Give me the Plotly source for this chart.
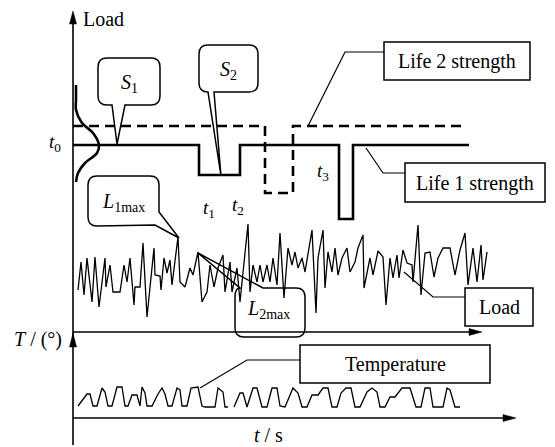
import plotly.graph_objects as go

# ---------------- data (schematic units: time -> x, level -> y, y grows downward) -------------
life1_t = [73, 199, 199, 240, 240, 339, 339, 353, 353, 469]
life1_y = [145, 145, 175, 175, 145, 145, 219, 219, 145, 145]

life2_t = [73, 265, 265, 293, 293, 465]
life2_y = [126, 126, 193, 193, 126, 126]

s1_density = [76, 76, 76, 82, 93, 99, 97, 85, 78, 76]
s1_level = [85, 100, 110, 123, 133, 145, 153, 163, 173, 182]

load_t = [78, 81, 84, 87, 92, 95, 99, 105, 106, 110, 113, 120, 124, 127, 130, 134, 135, 140, 143, 147,
          154, 155, 160, 161, 164, 167, 170, 172, 178, 180, 185, 190, 193, 198, 202, 207, 210, 214, 218,
          223, 225, 230, 232, 237, 240, 243, 248, 250, 253, 257, 260, 263, 267, 270, 273, 277, 280, 284,
          288, 292, 295, 298, 302, 305, 308, 312, 316, 318, 323, 325, 328, 332, 335, 338, 342, 347, 350,
          355, 358, 363, 364, 370, 373, 378, 383, 386, 390, 393, 397, 399, 403, 407, 412, 413, 418, 421,
          425, 430, 434, 438, 443, 450, 455, 460, 465, 468, 473, 477, 481, 483, 487]
load_v = [290, 262, 295, 258, 302, 257, 307, 258, 287, 265, 292, 292, 265, 282, 258, 305, 287, 287, 243, 317,
          248, 275, 276, 290, 258, 273, 260, 285, 237, 282, 287, 268, 275, 252, 302, 292, 265, 287, 268,
          255, 292, 262, 292, 268, 302, 275, 224, 292, 265, 282, 265, 282, 265, 282, 258, 285, 233, 298,
          248, 265, 252, 268, 258, 272, 253, 230, 313, 258, 230, 288, 252, 272, 248, 275, 258, 248, 272,
          262, 248, 235, 288, 258, 275, 251, 257, 305, 258, 278, 255, 278, 250, 263, 265, 282, 225, 295,
          253, 252, 277, 258, 248, 248, 275, 250, 233, 285, 248, 282, 245, 280, 252]

temp_t = [78, 87, 90, 93, 97, 102, 105, 108, 112, 117, 122, 125, 128, 132, 137, 140, 142, 145, 147, 152,
          158, 162, 165, 168, 172, 177, 180, 182, 187, 191, 198, 202, 205, 210, 215, 218, 223, 225, 228,
          None,
          234, 240, 243, 247, 253, 257, 262, 267, 272, 277, 280, 285, 293, 298, 302, 307, 312, 318, 323,
          328, 332, 337, 341, 346, 351, 355, 360, 367, 372, 377, 380, 385, 390, 395, 402, 410, 416, 421,
          425, 430, 433, 443, 447, 450, 455, 460]
temp_v = [406, 394, 394, 406, 406, 388, 392, 406, 406, 387, 387, 406, 406, 395, 395, 406, 387, 393, 406, 406,
          394, 388, 394, 406, 406, 388, 390, 406, 406, 388, 387, 406, 407, 407, 407, 388, 392, 407, 407,
          None,
          407, 393, 393, 407, 388, 388, 407, 407, 388, 388, 406, 407, 388, 393, 407, 407, 395, 395, 388,
          388, 407, 407, 393, 388, 388, 407, 407, 392, 388, 392, 407, 407, 397, 397, 388, 388, 407, 407,
          388, 388, 407, 407, 388, 390, 407, 407]

FONT = "Liberation Serif, Times New Roman, DejaVu Serif, serif"
BLACK = "black"

fig = go.Figure()

def add_line(xs, ys, width, dash=None, shape="linear"):
    fig.add_trace(go.Scatter(x=xs, y=ys, mode="lines", hoverinfo="skip",
                             line=dict(color=BLACK, width=width, dash=dash, shape=shape),
                             connectgaps=False))

# strengths, density, load, temperature
add_line(life2_t, life2_y, 2.6, dash="10px,6px")
add_line(life1_t, life1_y, 2.6)
add_line(s1_density, s1_level, 2.6, shape="spline")
add_line(load_t, load_v, 1.3)
add_line(temp_t, temp_v, 1.3)

shapes = []

def seg(x0, y0, x1, y1, w=1.5):
    shapes.append(dict(type="line", x0=x0, y0=y0, x1=x1, y1=y1, xref="x", yref="y",
                       line=dict(color=BLACK, width=w)))

def poly(pts, w=1.2, fill=None, close=False):
    p = "M " + " L ".join(f"{a},{b}" for a, b in pts) + (" Z" if close else "")
    shapes.append(dict(type="path", path=p, xref="x", yref="y",
                       line=dict(color=BLACK, width=w),
                       fillcolor=fill if fill else "rgba(0,0,0,0)"))

def rawpath(p, w=1.5):
    shapes.append(dict(type="path", path=p, xref="x", yref="y",
                       line=dict(color=BLACK, width=w), fillcolor="rgba(0,0,0,0)"))

# axes
seg(73, 445, 73, 20, 1.6)
seg(73, 332, 472, 332, 1.5)
seg(73, 418, 505, 418, 1.5)
poly([(73, 11), (69.5, 24), (76.5, 24)], w=0.5, fill=BLACK, close=True)
poly([(73, 333), (69.5, 347), (76.5, 347)], w=0.5, fill=BLACK, close=True)
poly([(482, 332), (469, 328.5), (469, 335.5)], w=0.5, fill=BLACK, close=True)
poly([(516, 418), (503, 414.5), (503, 421.5)], w=0.5, fill=BLACK, close=True)

# rectangular label boxes with leaders
def rect(x0, y0, x1, y1):
    shapes.append(dict(type="rect", x0=x0, y0=y0, x1=x1, y1=y1, xref="x", yref="y",
                       line=dict(color=BLACK, width=1.5), fillcolor="white"))

rect(384, 42, 530, 80)
poly([(384, 52), (345, 52), (308, 126)])
rect(405, 163, 545, 202)
poly([(405, 173), (383, 173), (366, 148)])
rect(465, 288, 533, 326)
poly([(465, 297), (433, 297), (404, 272)])
rect(300, 345, 490, 383)
poly([(300, 360), (247, 360), (200, 388)])

# rounded callouts
r = 9
# S1 : pointer on bottom edge
rawpath(f"M {98+r},58 L {160-r},58 Q 160,58 160,{58+r} L 160,{105-r} Q 160,105 {160-r},105 "
        f"L 125,105 L 117,144 L 112,105 L {98+r},105 Q 98,105 98,{105-r} L 98,{58+r} Q 98,58 {98+r},58 Z")
# S2 : thin pointer on bottom edge
rawpath(f"M {199+r},45 L {258-r},45 Q 258,45 258,{45+r} L 258,{92-r} Q 258,92 {258-r},92 "
        f"L 214,92 L 221,176 L 208,92 L {199+r},92 Q 199,92 199,{92-r} L 199,{45+r} Q 199,45 {199+r},45 Z")
# L1max : pointer from lower right
rawpath(f"M {88+r},176 L {159-r},176 Q 159,176 159,{176+r} L 159,212 L 179,238 L 155,225 "
        f"L {88+r},226 Q 88,226 88,{226-r} L 88,{176+r} Q 88,176 {88+r},176 Z")
# L2max : pointer from upper left
rawpath(f"M 235,{288+r} Q 235,288 240,288 L 198,253 L 263,288 L {305-r},288 Q 305,288 305,{288+r} "
        f"L 305,{337-r} Q 305,337 {305-r},337 L {235+r},337 Q 235,337 235,{337-r} Z")

annotations = []

def txt(x, y, s, size=20, xanchor="center"):
    annotations.append(dict(x=x, y=y, xref="x", yref="y", text=s, showarrow=False,
                            xanchor=xanchor, yanchor="middle",
                            font=dict(family=FONT, size=size, color=BLACK)))

txt(81, 19, "Load", xanchor="left")
txt(55, 143, "<i>t</i><sub>0</sub>", 19)
txt(129, 83, "<i>S</i><sub>1</sub>", 20)
txt(228, 70, "<i>S</i><sub>2</sub>", 20)
txt(209, 209, "<i>t</i><sub>1</sub>", 19)
txt(238, 206, "<i>t</i><sub>2</sub>", 19)
txt(323, 172, "<i>t</i><sub>3</sub>", 19)
txt(123, 202, "<i>L</i><sub>1max</sub>", 20)
txt(268, 309, "<i>L</i><sub>2max</sub>", 20)
txt(457, 61, "Life 2 strength", 20)
txt(475, 183, "Life 1 strength", 20)
txt(499, 307, "Load", 20)
txt(395, 364, "Temperature", 20)
txt(38, 339, "<i>T</i> / (°)", 20)
txt(268, 435, "<i>t</i> / s", 20)

# the page body has an 8px margin: the figure is 8px smaller and its ranges start at 8
fig.update_layout(
    width=547, height=439, margin=dict(l=0, r=0, t=0, b=0), autosize=False,
    paper_bgcolor="white", plot_bgcolor="white", showlegend=False,
    xaxis=dict(range=[8, 555], visible=False, fixedrange=True),
    yaxis=dict(range=[447, 8], visible=False, fixedrange=True),
    shapes=shapes, annotations=annotations,
)

fig.write_html("out.html")
